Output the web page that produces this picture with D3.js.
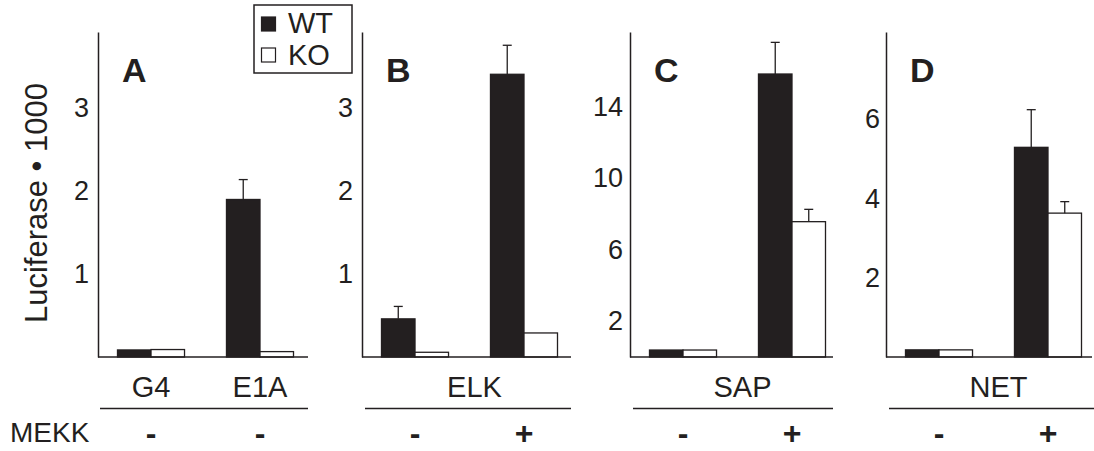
<!DOCTYPE html>
<html>
<head>
<meta charset="utf-8">
<script src="https://cdn.jsdelivr.net/npm/d3@7"></script>
<style>
  body { margin: 0; background: #fff; }
  svg text { font-family: "Liberation Sans", Arial, sans-serif; fill: #231f20; }
</style>
</head>
<body>
<script>
var w = 1094;
var h = 451;
var ink = "#231f20";

// data
var panels = ["A", "B", "C", "D"];
var reporters = ["ELK", "SAP", "NET"];
var groupsA = ["G4", "E1A"];
var groupsBCD = ["-", "+"];
var mekkA = ["-", "-"];
var mekkBCD = ["-", "+"];
var series = ["WT", "KO"];

var wtA = [0.085, 1.9];
var koA = [0.09, 0.065];
var wtErrA = [null, 2.14];

var wtB = [0.46, 3.41];
var koB = [0.057, 0.29];
var wtErrB = [0.61, 3.76];
var koErrB = [null, null];

var wtC = [0.39, 15.83];
var koC = [0.39, 7.57];
var wtErrC = [null, 17.6];
var koErrC = [null, 8.26];

var wtD = [0.18, 5.29];
var koD = [0.18, 3.63];
var wtErrD = [null, 6.24];
var koErrD = [null, 3.92];

var ticksA = [1, 2, 3];
var ticksB = [1, 2, 3];
var ticksC = [2, 6, 10, 14];
var ticksD = [2, 4, 6];

var yMaxA = 3.92, yMaxB = 3.92, yMaxC = 18.18, yMaxD = 8.2;

var svg = d3.select("body")
    .append("svg")
    .attr("width", w)
    .attr("height", h);

var yTop = 32, base = 357;

var layout = [
  { x: 98, width: 210, groups: groupsA, mekk: mekkA, wt: wtA, ko: koA, wtErr: wtErrA, koErr: [null, null], ticks: ticksA, ymax: yMaxA, label: null, pad: 9 },
  { x: 362, width: 209, groups: groupsBCD, mekk: mekkBCD, wt: wtB, ko: koB, wtErr: wtErrB, koErr: koErrB, ticks: ticksB, ymax: yMaxB, label: reporters[0], pad: 9 },
  { x: 630, width: 203, groups: groupsBCD, mekk: mekkBCD, wt: wtC, ko: koC, wtErr: wtErrC, koErr: koErrC, ticks: ticksC, ymax: yMaxC, label: reporters[1], pad: 7 },
  { x: 886, width: 206, groups: groupsBCD, mekk: mekkBCD, wt: wtD, ko: koD, wtErr: wtErrD, koErr: koErrD, ticks: ticksD, ymax: yMaxD, label: reporters[2], pad: 6 }
];

layout.forEach(function(p, pi) {
  var g = svg.append("g").attr("transform", "translate(" + p.x + ",0)");

  var yScale = d3.scaleLinear()
      .domain([0, p.ymax])
      .range([base, yTop]);

  var x0 = d3.scaleBand()
      .domain(p.groups)
      .range([19.5, 195.5])
      .paddingInner(0.385);

  var x1 = d3.scaleBand()
      .domain(series)
      .range([0, x0.bandwidth()]);

  var rows = p.groups.map(function(gr, i) {
    return [
      { group: gr, s: "WT", v: p.wt[i], err: p.wtErr[i] },
      { group: gr, s: "KO", v: p.ko[i], err: p.koErr[i] }
    ];
  });
  var flat = d3.merge(rows);

  g.selectAll("rect.bar")
      .data(flat)
      .enter()
      .append("rect")
      .attr("class", "bar")
      .attr("x", function(d) { return x0(d.group) + x1(d.s); })
      .attr("y", function(d) { return yScale(d.v); })
      .attr("width", x1.bandwidth())
      .attr("height", function(d) { return base - yScale(d.v); })
      .attr("fill", function(d) { return d.s == "WT" ? ink : "#fff"; })
      .attr("stroke", ink)
      .attr("stroke-width", 1.3);

  var errs = flat.filter(function(d) { return d.err != null; });

  g.selectAll("line.err")
      .data(errs)
      .enter()
      .append("line")
      .attr("class", "err")
      .attr("x1", function(d) { return x0(d.group) + x1(d.s) + x1.bandwidth() / 2; })
      .attr("x2", function(d) { return x0(d.group) + x1(d.s) + x1.bandwidth() / 2; })
      .attr("y1", function(d) { return yScale(d.v); })
      .attr("y2", function(d) { return yScale(d.err); })
      .attr("stroke", ink)
      .attr("stroke-width", 1.3);

  g.selectAll("line.cap")
      .data(errs)
      .enter()
      .append("line")
      .attr("class", "cap")
      .attr("x1", function(d) { return x0(d.group) + x1(d.s) + x1.bandwidth() / 2 - 4.5; })
      .attr("x2", function(d) { return x0(d.group) + x1(d.s) + x1.bandwidth() / 2 + 4.5; })
      .attr("y1", function(d) { return yScale(d.err); })
      .attr("y2", function(d) { return yScale(d.err); })
      .attr("stroke", ink)
      .attr("stroke-width", 1.3);

  // y axis: line and numbers only
  var yAxis = d3.axisLeft()
      .scale(yScale)
      .tickValues(p.ticks)
      .tickSize(0)
      .tickPadding(p.pad)
      .tickFormat(d3.format("d"));

  var ya = g.append("g").call(yAxis);
  ya.select(".domain").attr("stroke", ink).attr("stroke-width", 1.5);
  ya.selectAll("text")
      .style("font-family", "'Liberation Sans', Arial, sans-serif")
      .style("font-size", "27px")
      .attr("fill", ink);

  // baseline
  g.append("line")
      .attr("x1", 0).attr("x2", p.width)
      .attr("y1", base).attr("y2", base)
      .attr("stroke", ink)
      .attr("stroke-width", 1.5);

  // panel letter
  g.append("text")
      .attr("x", 24)
      .attr("y", 82)
      .style("font-size", "34px")
      .style("font-weight", "bold")
      .text(panels[pi]);

  // category labels
  if (p.label == null) {
    g.selectAll("text.cat")
        .data(p.groups)
        .enter()
        .append("text")
        .attr("class", "cat")
        .attr("x", function(d) { return x0(d) + x0.bandwidth() / 2; })
        .attr("y", 397)
        .attr("text-anchor", "middle")
        .style("font-size", "29px")
        .text(function(d) { return d; });
  } else {
    g.append("text")
        .attr("x", (x0(p.groups[0]) + x0(p.groups[1]) + x0.bandwidth()) / 2 + 5)
        .attr("y", 397)
        .attr("text-anchor", "middle")
        .style("font-size", "29px")
        .text(p.label);
  }

  // separator
  g.append("line")
      .attr("x1", pi == 0 ? 2 : 3).attr("x2", pi == 3 ? 210 : p.width)
      .attr("y1", 408.5).attr("y2", 408.5)
      .attr("stroke", ink)
      .attr("stroke-width", 1.3);

  // MEKK signs
  g.selectAll("text.sign")
      .data(p.groups)
      .enter()
      .append("text")
      .attr("class", "sign")
      .attr("x", function(d) { return x0(d) + x0.bandwidth() / 2; })
      .attr("y", 444)
      .attr("text-anchor", "middle")
      .style("font-size", "32px")
      .style("font-weight", "bold")
      .text(function(d, i) { return p.mekk[i]; });
});

svg.append("text")
    .attr("x", 10)
    .attr("y", 442)
    .style("font-size", "28px")
    .text("MEKK");

svg.append("text")
    .attr("transform", "translate(47,203) rotate(-90)")
    .attr("text-anchor", "middle")
    .style("font-size", "31px")
    .text("Luciferase \u2022 1000");

// legend
var legend = svg.append("g").attr("transform", "translate(254,5)");
legend.append("rect")
    .attr("width", 98).attr("height", 68)
    .attr("fill", "#fff")
    .attr("stroke", ink)
    .attr("stroke-width", 1.5);

legend.selectAll("rect.key")
    .data(series)
    .enter()
    .append("rect")
    .attr("class", "key")
    .attr("x", 7.5)
    .attr("y", function(d, i) { return 12 + i * 31; })
    .attr("width", 14).attr("height", 14)
    .attr("fill", function(d) { return d == "WT" ? ink : "#fff"; })
    .attr("stroke", ink)
    .attr("stroke-width", 1.2);

legend.selectAll("text")
    .data(series)
    .enter()
    .append("text")
    .attr("x", 34)
    .attr("y", function(d, i) { return 28 + i * 32; })
    .style("font-size", "29px")
    .text(function(d) { return d; });
</script>
</body>
</html>
